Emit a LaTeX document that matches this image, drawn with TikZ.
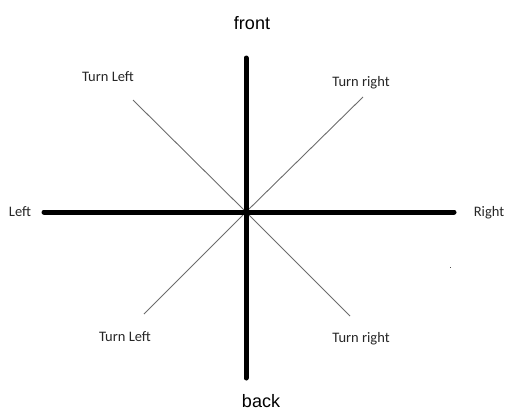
\documentclass[tikz,border=0pt]{standalone}
\usepackage{fontspec}
\newfontfamily\armfont{Liberation Sans}
\newfontfamily\calfont{Carlito}
\begin{document}
\begin{tikzpicture}[x=1pt,y=-1pt,
  axis/.style={line width=5pt,line cap=round,black},
  diag/.style={line width=0.9pt,gray!85!black},
  biglbl/.style={font=\armfont\fontsize{18}{20}\selectfont,inner sep=0pt},
  smalllbl/.style={font=\calfont\fontsize{14.5}{16}\selectfont,inner sep=0pt,text=black!85}]
\useasboundingbox (0,0) rectangle (505,408);
\coordinate (c) at (246,212);
\coordinate (top) at (246,58);
\coordinate (bot) at (246,378);
\coordinate (le) at (44,212);
\coordinate (ri) at (454,212);
\coordinate (ul) at (133,100);
\coordinate (ur) at (363,97);
\coordinate (ll) at (144,314);
\coordinate (lr) at (350,316);
\draw[diag] (ul) -- (c);
\draw[diag] (ur) -- (c);
\draw[diag] (ll) -- (c);
\draw[diag] (lr) -- (c);
\draw[axis] (top) -- (bot);
\draw[axis] (le) -- (ri);
\node[biglbl] (front) at (252,23) {front};
\node[biglbl] (back) at (261,401) {back};
\node[smalllbl] (left) at (20,212) {Left};
\node[smalllbl] (right) at (489,213) {Right};
\node[smalllbl] (tl1) at (108,77) {Turn Left};
\node[smalllbl] (tr1) at (361,83) {Turn right};
\node[smalllbl] (tl2) at (125,337) {Turn Left};
\node[smalllbl] (tr2) at (361,339) {Turn right};
\fill[black!70] (449.5,266.5) rectangle (451,268);
\end{tikzpicture}
\end{document}
